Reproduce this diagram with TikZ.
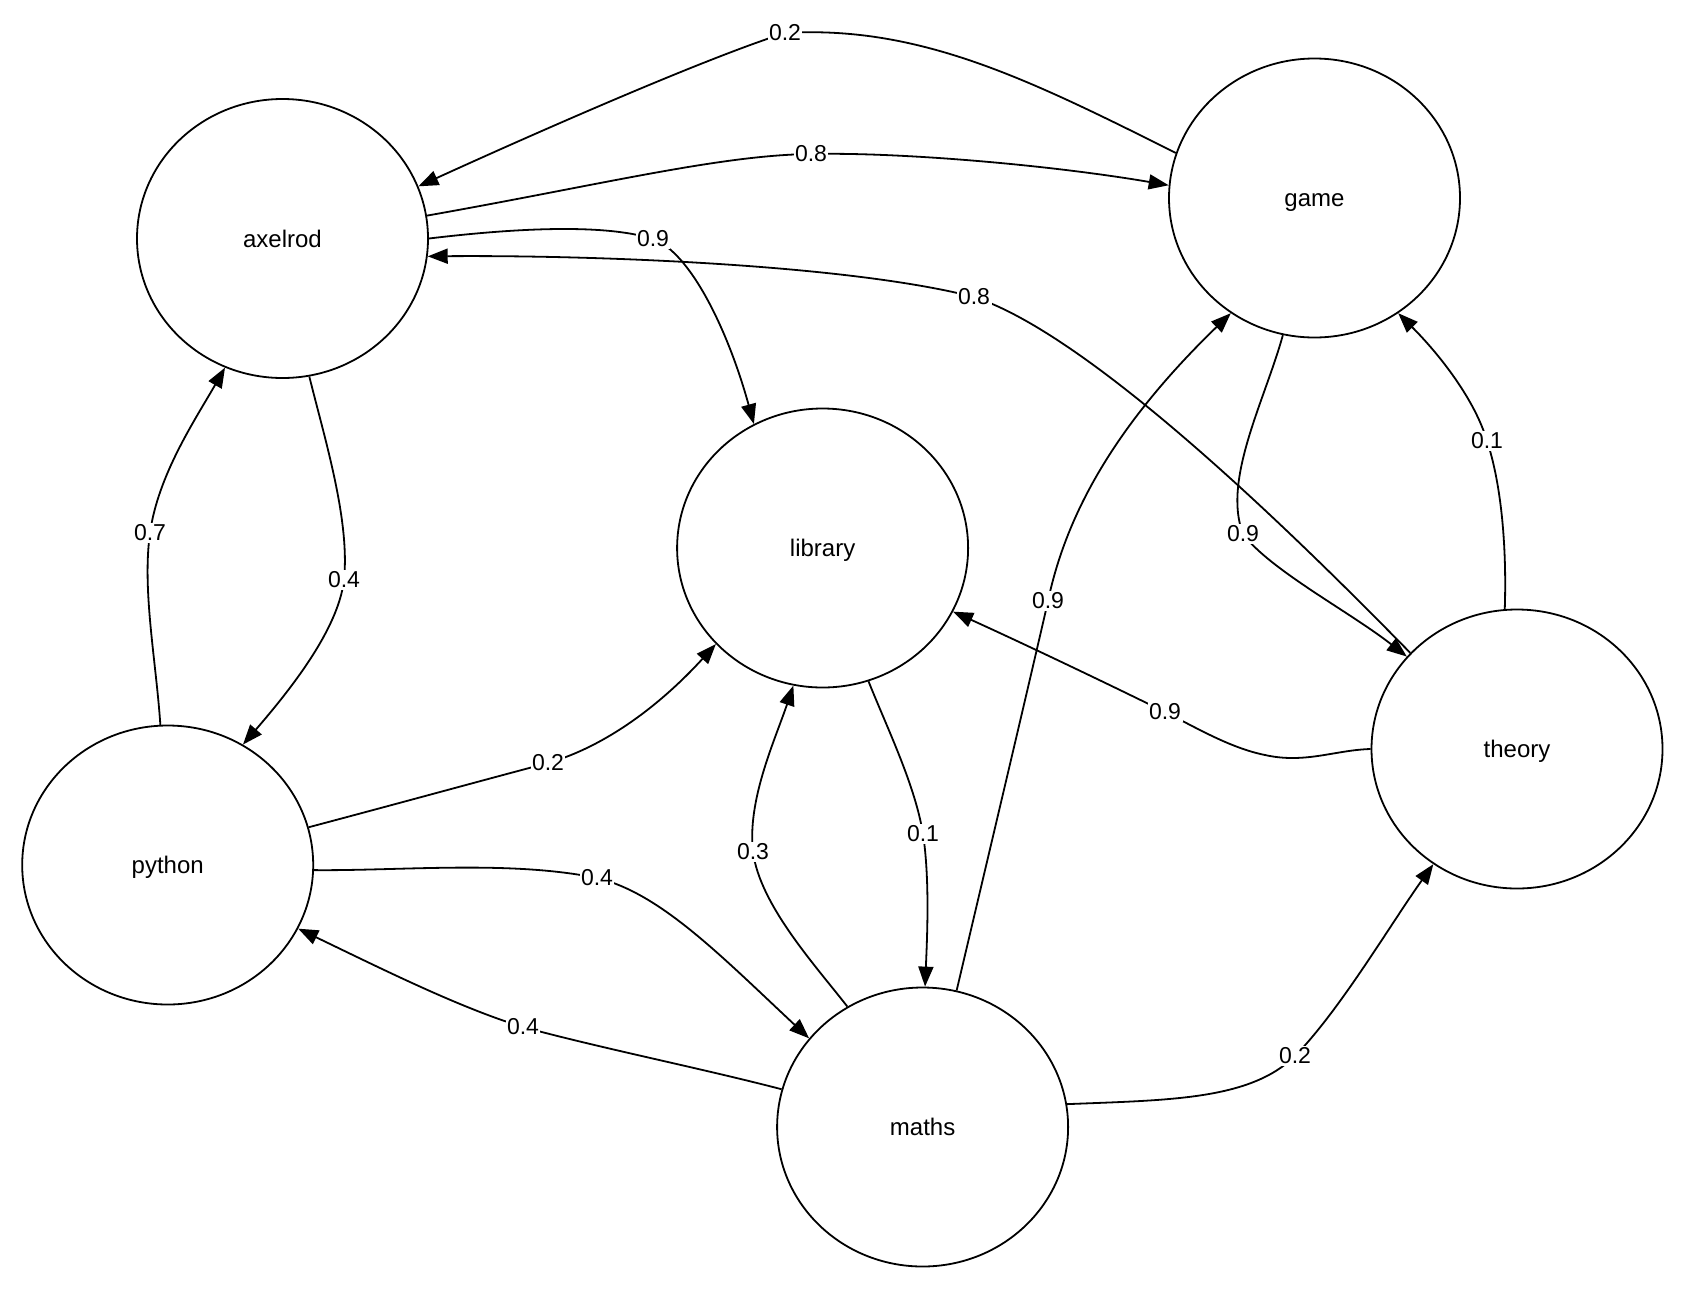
\documentclass[tikz,border=0pt]{standalone}
\usepackage{fontspec}
\setmainfont{Liberation Sans}
\usetikzlibrary{shapes.geometric,arrows.meta}
\begin{document}
\begin{tikzpicture}[x=1pt,y=-1pt,
 vert/.style={draw, ellipse, line width=1.8pt, minimum width=291pt, minimum height=279pt, inner sep=0pt, text height=17.2pt, text depth=0pt, font=\fontsize{24}{28}\selectfont},
 edge/.style={line width=1.8pt, -{Triangle[length=20pt,width=15pt]}},
 lbl/.style={fill=white, inner sep=1.5pt, font=\fontsize{23}{27}\selectfont}]
\fill[white] (0,0) rectangle (1686,1288);
\useasboundingbox (0,0) rectangle (1686,1288);

\node[vert] (axelrod) at (282.5,238.5) {axelrod};
\node[vert] (game) at (1314.5,198) {game};
\node[vert] (library) at (822.6,548) {library};
\node[vert] (python) at (167.7,865) {python};
\node[vert] (maths) at (922.6,1127) {maths};
\node[vert] (theory) at (1517,749) {theory};

% game -> axelrod 0.2
\draw[edge] (game.162) .. controls (1030,80) and (920,25) .. (785,33) node[lbl] (l1) {0.2}
  .. controls (700,60) and (520,140) .. (axelrod.21);
% axelrod -> game 0.8
\draw[edge] (axelrod.9) .. controls (600,185) and (720,155) .. (811,154) node[lbl] (l2) {0.8}
  .. controls (900,152) and (1050,165) .. (game.175);
% axelrod -> library 0.9
\draw[edge] (axelrod.0) .. controls (500,230) and (600,222) .. (653,239) node[lbl] (l3) {0.9}
  .. controls (690,252) and (728,330) .. (library.119);
% theory -> axelrod 0.8
\draw[edge] (theory.138) .. controls (1290,530) and (1090,335) .. (974,297) node[lbl] (l4) {0.8}
  .. controls (850,265) and (600,255) .. (axelrod.-7);
% axelrod -> python 0.4
\draw[edge] (axelrod.-79) .. controls (325,440) and (350,520) .. (344,580) node[lbl] (l5) {0.4}
  .. controls (338,630) and (290,690) .. (python.58);
% python -> axelrod 0.7
\draw[edge] (python.93) .. controls (156,660) and (142,590) .. (150,533) node[lbl] (l6) {0.7}
  .. controls (158,475) and (195,420) .. (axelrod.-114);
% python -> library 0.2
\draw[edge] (python.15) .. controls (400,803) and (480,781) .. (548,763) node[lbl] (l7) {0.2}
  .. controls (610,745) and (665,700) .. (library.-138);
% python -> maths 0.4
\draw[edge] (python.-2) .. controls (400,871) and (510,860) .. (597,878) node[lbl] (l8) {0.4}
  .. controls (660,893) and (720,955) .. (maths.142);
% maths -> python 0.4
\draw[edge] (maths.165) .. controls (700,1068) and (600,1048) .. (523,1027) node[lbl] (l9) {0.4}
  .. controls (460,1008) and (380,968) .. (python.-26);
% maths -> library 0.3
\draw[edge] (maths.122) .. controls (815,965) and (760,905) .. (753,852) node[lbl] (l10) {0.3}
  .. controls (747,800) and (775,740) .. (library.-102);
% library -> maths 0.1
\draw[edge] (library.-71) .. controls (888,730) and (915,785) .. (923,834) node[lbl] (l11) {0.1}
  .. controls (930,880) and (927,940) .. (maths.89);
% maths -> game 0.9
\draw[edge] (maths.76) .. controls (985,870) and (1030,680) .. (1048,601) node[lbl] (l12) {0.9}
  .. controls (1065,520) and (1110,430) .. (game.-126);
% maths -> theory 0.2
\draw[edge] (maths.9) .. controls (1170,1100) and (1250,1100) .. (1295,1056) node[lbl] (l13) {0.2}
  .. controls (1340,1010) and (1390,925) .. (theory.-126);
% game -> theory 0.9
\draw[edge] (game.-103) .. controls (1265,400) and (1222,480) .. (1243,534) node[lbl] (l14) {0.9}
  .. controls (1270,570) and (1350,612) .. (theory.140);
% theory -> game 0.1
\draw[edge] (theory.95) .. controls (1507,540) and (1500,480) .. (1487,441) node[lbl] (l15) {0.1}
  .. controls (1475,400) and (1440,355) .. (game.-54);
% theory -> library 0.9
\draw[edge] (theory.180) .. controls (1335,750) and (1305,764) .. (1265,755)
  .. controls (1230,748) and (1195,727) .. (1165,712) node[lbl] (l16) {0.9}
  .. controls (1100,680) and (1020,642) .. (library.-26);
\end{tikzpicture}
\end{document}
